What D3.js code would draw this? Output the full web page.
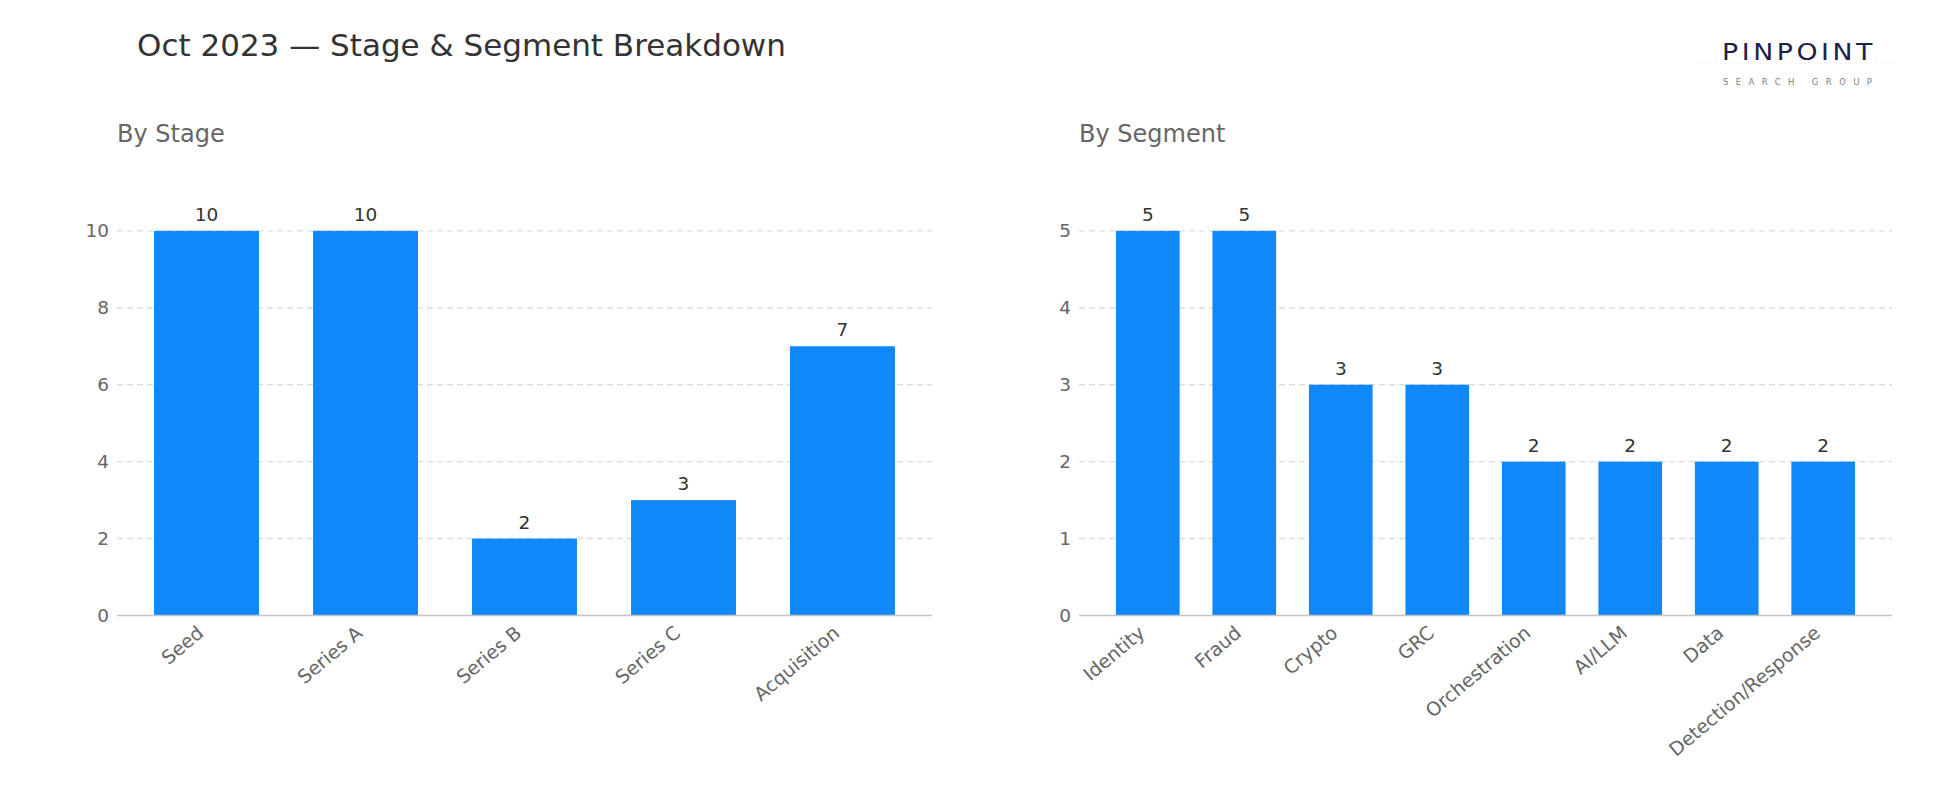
<!DOCTYPE html>
<html>
<head>
<meta charset="utf-8">
<script src="https://cdn.jsdelivr.net/npm/d3@7"></script>
<style>
  html, body { margin: 0; padding: 0; background: #ffffff; }
  svg { display: block; }
  text { font-family: "DejaVu Sans", sans-serif; }
</style>
</head>
<body>
<svg id="chart" width="1950" height="810"></svg>
<script>
// ---- data ----
const title = "Oct 2023 — Stage & Segment Breakdown";
const stageTitle = "By Stage";
const segmentTitle = "By Segment";
const stageCategories = ["Seed", "Series A", "Series B", "Series C", "Acquisition"];
const stageValues = [10, 10, 2, 3, 7];
const stageTicks = [0, 2, 4, 6, 8, 10];
const segmentCategories = ["Identity", "Fraud", "Crypto", "GRC", "Orchestration", "AI/LLM", "Data", "Detection/Response"];
const segmentValues = [5, 5, 3, 3, 2, 2, 2, 2];
const segmentTicks = [0, 1, 2, 3, 4, 5];

// ---- styles ----
const BAR = "#1188F8";
const svg = d3.select("#chart");

svg.append("text")
  .attr("x", 137).attr("y", 56)
  .attr("font-size", 31).attr("fill", "#333333")
  .text(title);

// logo
svg.append("line")
  .attr("x1", 1700).attr("x2", 1892).attr("y1", 63.5).attr("y2", 63.5)
  .attr("stroke", "#f0f0f0").attr("stroke-width", 1).attr("stroke-dasharray", "2,3");
svg.append("text")
  .attr("x", 1722).attr("y", 60)
  .attr("font-family", "'DejaVu Sans', sans-serif")
  .attr("font-weight", 400)
  .attr("font-size", 22.5).attr("fill", "#1c2146")
  .attr("letter-spacing", 3)
  .attr("textLength", 154).attr("lengthAdjust", "spacingAndGlyphs")
  .text("PINPOINT");
svg.append("text")
  .attr("x", 1723).attr("y", 85)
  .attr("font-family", "'Noto Sans', sans-serif")
  .attr("font-size", 8.5).attr("fill", "#808080")
  .attr("textLength", 149).attr("lengthAdjust", "spacing")
  .text("SEARCH GROUP");

function panel(opts) {
  const { x0, x1, yTop, yBot, cats, vals, ticks, yMax, sub } = opts;
  const n = cats.length;
  const x = d3.scaleBand().domain(cats).range([x0, x1])
    .paddingInner(0.34).paddingOuter(0.05 * (n - 0.34));
  const y = d3.scaleLinear().domain([0, yMax * 1.05]).range([yBot, yTop]);
  const g = svg.append("g");

  g.append("text")
    .attr("x", x0).attr("y", 142)
    .attr("font-size", 24).attr("fill", "#666666")
    .text(sub);

  // gridlines
  g.selectAll("line.grid").data(ticks.filter(t => t > 0)).join("line")
    .attr("class", "grid")
    .attr("x1", x0).attr("x2", x1)
    .attr("y1", d => y(d)).attr("y2", d => y(d))
    .attr("stroke", "#dddddd").attr("stroke-width", 1.4)
    .attr("stroke-dasharray", "6,4");

  // y tick labels
  const yAxis = d3.axisLeft(y).tickValues(ticks).tickSize(0).tickPadding(8)
    .tickFormat(d3.format("d"));
  const ya = g.append("g").attr("transform", `translate(${x0},0)`).call(yAxis);
  ya.select(".domain").remove();
  ya.selectAll("text").attr("font-size", 18.5).attr("fill", "#666666")
    .attr("font-family", "DejaVu Sans, sans-serif");

  // bars
  g.selectAll("rect.bar").data(cats).join("rect")
    .attr("class", "bar")
    .attr("x", d => x(d)).attr("width", x.bandwidth())
    .attr("y", (d, i) => y(vals[i]))
    .attr("height", (d, i) => y(0) - y(vals[i]))
    .attr("fill", BAR);

  // value labels
  g.selectAll("text.val").data(cats).join("text")
    .attr("class", "val")
    .attr("x", d => x(d) + x.bandwidth() / 2)
    .attr("y", (d, i) => y(vals[i]) - 10)
    .attr("text-anchor", "middle")
    .attr("font-size", 18.5).attr("fill", "#333333")
    .text((d, i) => vals[i]);

  // x axis
  const xAxis = d3.axisBottom(x).tickSize(0).tickPadding(0);
  const xa = g.append("g").attr("transform", `translate(0,${y(0)})`).call(xAxis);
  xa.select(".domain").attr("stroke", "#c4c4c4").attr("stroke-width", 1.6)
    .attr("d", `M${x0},0H${x1}`);
  xa.selectAll(".tick text")
    .attr("font-size", 19).attr("fill", "#666666")
    .attr("font-family", "DejaVu Sans, sans-serif")
    .attr("text-anchor", "end")
    .attr("dy", null).attr("y", null)
    .attr("dominant-baseline", "hanging")
    .attr("transform", "translate(-11,8.5) rotate(-40)");
}

panel({ x0: 117, x1: 932, yTop: 211.6, yBot: 615.5,
  cats: stageCategories, vals: stageValues, ticks: stageTicks, yMax: 10, sub: stageTitle });
panel({ x0: 1079, x1: 1892, yTop: 211.6, yBot: 615.5,
  cats: segmentCategories, vals: segmentValues, ticks: segmentTicks, yMax: 5, sub: segmentTitle });
</script>
</body>
</html>
